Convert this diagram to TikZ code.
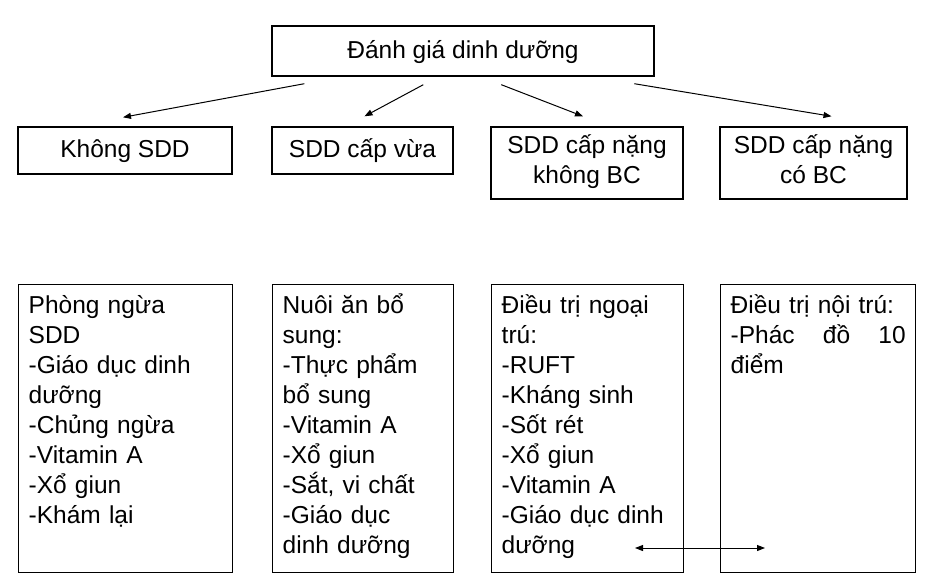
\documentclass[tikz,border=0pt]{standalone}
\usepackage{fontspec}
\setmainfont{Liberation Sans}
\usetikzlibrary{arrows.meta}
\newcommand{\linestrut}{\rule[-8pt]{0pt}{30pt}}

\begin{document}
\begin{tikzpicture}[x=1pt, y=-1pt, >={Triangle[length=8pt, width=6pt]}, line width=1pt,
  box/.style={draw, line width=1.4pt, font=\fontsize{24.5}{30}\selectfont, align=center, inner sep=0pt,
    execute at begin node=\linestrut, execute at end node=\linestrut},
  listbox/.style={draw, line width=1.4pt, anchor=north west, font=\fontsize{24.5}{30}\selectfont, align=left, inner xsep=10pt, inner ysep=9pt, text height=20pt, text depth=250pt}]
\useasboundingbox (0,0) rectangle (928,584);
\node[box, minimum width=382pt, minimum height=50pt] (dg) at (463,51) {Đánh giá dinh dưỡng};
\node[box, minimum width=214pt, minimum height=47pt] (k0) at (125,150.5) {Không SDD};
\node[box, minimum width=181pt, minimum height=47pt] (k1) at (362.5,150.5) {SDD cấp vừa};
\node[box, minimum width=192pt, minimum height=72pt] (k2) at (587,163) {SDD cấp nặng\\không BC};
\node[box, minimum width=187pt, minimum height=72pt] (k3) at (813.5,163) {SDD cấp nặng\\có BC};
\node[listbox, text width=194pt] (p0) at (18,284) {Phòng ngừa\\SDD\\-Giáo dục dinh\\dưỡng\\-Chủng ngừa\\-Vitamin A\\-Xổ giun\\-Khám lại};
\node[listbox, text width=161pt] (p1) at (272,284) {Nuôi ăn bổ\\sung:\\-Thực phẩm\\bổ sung\\-Vitamin A\\-Xổ giun\\-Sắt, vi chất\\-Giáo dục\\dinh dưỡng};
\node[listbox, text width=172pt] (p2) at (491,284) {Điều trị ngoại\\trú:\\-RUFT\\-Kháng sinh\\-Sốt rét\\-Xổ giun\\-Vitamin A\\-Giáo dục dinh\\dưỡng};
\node[listbox, text width=175pt] (p3) at (720,284) {Điều trị nội trú:\\-Phác\hfill đồ\hfill 10\\điểm};
\draw[->] ([xshift=33pt, yshift=-7pt]dg.south west) -- ([xshift=-2pt, yshift=9pt]k0.north);
\draw[->] ([xshift=152pt, yshift=-8pt]dg.south west) -- ([xshift=2pt, yshift=10pt]k1.north);
\draw[->] ([xshift=230pt, yshift=-8pt]dg.south west) -- ([xshift=-4pt, yshift=10pt]k2.north);
\draw[->] ([xshift=363pt, yshift=-7pt]dg.south west) -- ([xshift=18pt, yshift=10pt]k3.north);
\coordinate (dl) at (635,548);
\coordinate (dr) at (765,548);
\draw[<->] (dl) -- (dr);
\end{tikzpicture}
\end{document}
